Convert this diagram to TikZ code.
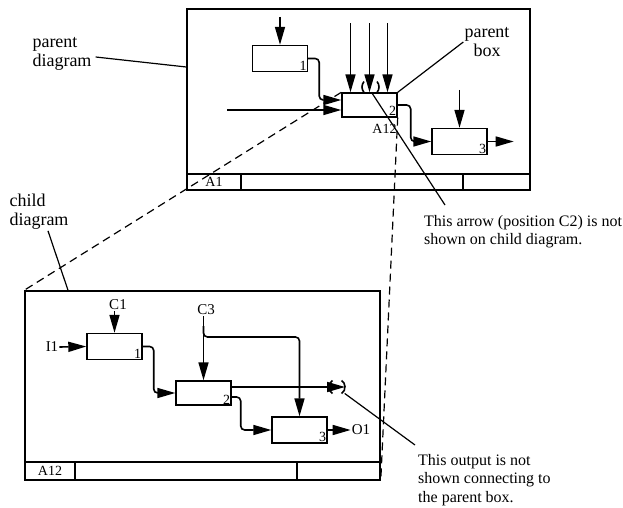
\documentclass[tikz,border=0pt]{standalone}
\usepackage{fontspec}
\setmainfont{Liberation Serif}
\usetikzlibrary{arrows.meta, positioning, calc}

\begin{document}
\begin{tikzpicture}[x=1pt, y=-1pt,
  frame/.style={draw, line width=1.5pt, inner sep=0pt},
  bar/.style={line width=1.5pt},
  actbox/.style={draw, line width=1.4pt, minimum width=55pt, minimum height=26pt, inner sep=0pt},
  num/.style={anchor=south east, inner sep=1.5pt, font=\fontsize{14}{14}\selectfont},
  arr/.style={-{Triangle[length=18pt,width=10pt]}, line width=1.6pt, rounded corners=4pt},
  ldr/.style={line width=1.2pt},
  dsh/.style={line width=1.2pt, dash pattern=on 8pt off 5pt},
  lbl/.style={font=\fontsize{18}{19}\selectfont, align=left, inner sep=1pt},
  note/.style={font=\fontsize{16}{18.5}\selectfont, align=left, inner sep=1pt},
  sig/.style={font=\fontsize{15}{15}\selectfont, inner sep=1pt},
  tag/.style={font=\fontsize{14}{14}\selectfont, inner sep=1pt},
]
\useasboundingbox (0,0) rectangle (623,508);

%% ---- Parent diagram ----
\node[frame, minimum width=343pt, minimum height=181pt] (pf) at (358.5,99.5) {};
\draw[bar] (187,174) -- (530,174);
\draw[bar] (241,174) -- (241,190);
\draw[bar] (463,174) -- (463,190);
\node[tag] at (214,182) {A1};

\node[actbox] (pb1) at (280,58.5) {};
\node[num] at (pb1.south east) {1};
\node[actbox, minimum height=24pt] (pb2) at (369.5,105) {};
\node[num] at (pb2.south east) {2};
\node[actbox] (pb3) at (459.5,141.5) {};
\node[num] at (pb3.south east) {3};
\node[tag, anchor=north east] (pa12) at ([yshift=-5pt]pb2.south east) {A12};

%% arrows of the parent
\draw[arr] ([yshift=28pt]pb1.north) -- (pb1.north);
\draw[arr] (pb1.east) -- ++(11,0) |- ([yshift=5pt]pb2.west);
\coordinate (pin) at (227,110);
\draw[arr] (pin) -- (pin -| pb2.west);
\foreach \dx in {-19,0,18}
  \draw[arr] ([xshift=\dx pt, yshift=69pt]pb2.north) -- ([xshift=\dx pt]pb2.north);
\coordinate (ptun) at (370.5,87);
\draw[line width=1.6pt] (ptun) ++(140:8.5pt) arc[start angle=140, end angle=220, radius=8.5pt];
\draw[line width=1.6pt] (ptun) ++(-40:8.5pt) arc[start angle=-40, end angle=40, radius=8.5pt];
\draw[arr] (pb2.east) -- ++(13,0) |- (pb3.west);
\draw[arr] ([yshift=38pt]pb3.north) -- (pb3.north);
\draw[arr] (pb3.east) -- ++(26,0);

%% ---- Child diagram ----
\node[frame, minimum width=355pt, minimum height=189pt] (cf) at (202.5,385.5) {};
\draw[bar] (25,462) -- (380,462);
\draw[bar] (75,462) -- (75,480);
\draw[bar] (297,462) -- (297,480);
\node[tag] at (50,471) {A12};

\node[actbox] (cb1) at (114.5,346.5) {};
\node[num] at (cb1.south east) {1};
\node[actbox, minimum height=24pt] (cb2) at (203.5,393) {};
\node[num] at (cb2.south east) {2};
\node[actbox] (cb3) at (299.5,430) {};
\node[num] at (cb3.south east) {3};

\node[sig] (c1) at (118,305) {C1};
\node[sig] (i1) at (52,347) {I1};
\node[sig] (c3) at (206,310) {C3};
\node[sig] (o1) at (361,430) {O1};

%% arrows of the child
\draw[arr] (c1.south -| cb1.north) -- (cb1.north);
\draw[arr] (i1.east) -- (cb1.west);
\draw[arr] (cb1.east) -- ++(11,0) |- (cb2.west);
\draw[arr] (c3.south -| cb2.north) -- (cb2.north);
\coordinate (c3j) at (203.5,337);
\draw[arr] (c3j |- 0,326) |- (cb3.north |- c3j) -- (cb3.north);
\coordinate (ctun) at (337,387);
\draw[arr] ([yshift=6pt]cb2.east) -- ([xshift=8pt]ctun);
\draw[line width=1.6pt] (ctun) ++(125:8pt) arc[start angle=125, end angle=235, radius=8pt];
\draw[line width=1.6pt] (ctun) ++(-55:8pt) arc[start angle=-55, end angle=55, radius=8pt];
\draw[arr] ([yshift=-4pt]cb2.east) -- ++(9,0) |- (cb3.west);
\draw[arr] (cb3.east) -- (o1.west);

%% ---- Dashed links parent box -> child diagram ----
\draw[dsh] (pb2.north west) -- (cf.north west);
\draw[dsh] (pb2.south east) -- (cf.south east);

%% ---- Labels and leaders ----
\node[lbl, align=center] (pbox) at (487,42) {parent\\box};
\draw[ldr] (pb2.north east) -- (pbox.west);

\node[lbl] (pdia) at (62,54) {parent\\diagram};
\draw[ldr] ([shift={(3pt,-3pt)}]pdia.east) -- (pf.west |- 0,67);

\node[lbl] (cdia) at (39,212) {child\\diagram};
\draw[ldr] ([xshift=9pt]cdia.south) -- (cf.north west -| 68,0);

\node[note, anchor=north west] (n1) at (423,214)
  {This arrow (position C2) is not\\shown on child diagram.};
\draw[ldr] ([xshift=2pt]pb2.north) -- ([shift={(22pt,9pt)}]n1.north west);

\node[note, anchor=north west] (n2) at (417,453)
  {This output is not\\shown connecting to\\the parent box.};
\draw[ldr] (ctun) ++(-40:10pt) -- ([shift={(-2pt,8pt)}]n2.north west);
\end{tikzpicture}
\end{document}
